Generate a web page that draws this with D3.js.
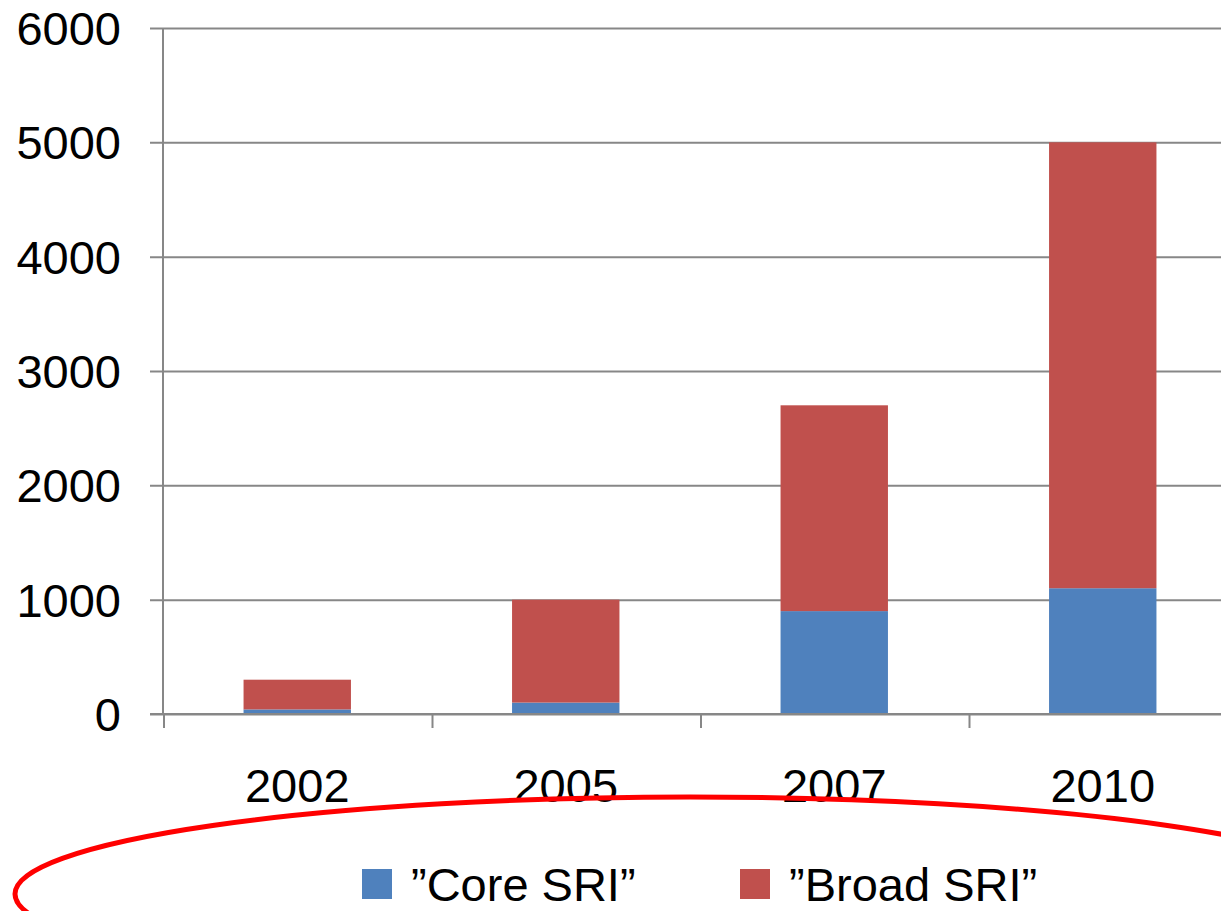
<!DOCTYPE html>
<html>
<head>
<meta charset="utf-8">
<script src="https://cdn.jsdelivr.net/npm/d3@7"></script>
<style>
  body { margin: 0; background: #fff; }
  text { font-family: "Liberation Sans", Arial, sans-serif; fill: #000; }
</style>
</head>
<body>
<div id="wrapper"></div>
<script>
const years = ["2002", "2005", "2007", "2010"];
const coreSRI = [40, 100, 900, 1100];
const broadSRI = [260, 900, 1800, 3900];
const yTicks = [0, 1000, 2000, 3000, 4000, 5000, 6000];
const seriesNames = ["\u201DCore SRI\u201D", "\u201DBroad SRI\u201D"];
const colors = ["#4F81BD", "#C0504D"];

const dimension = {
    width: 1221,
    height: 911,
    margin: { left: 163, right: -16, top: 28, bottom: 197 }
};
const fontSize = "47px";

const svg = d3.select("#wrapper").append("svg")
    .attr("width", dimension.width)
    .attr("height", dimension.height);

// the plot runs past the right edge of the picture
const x_scale = d3.scaleBand()
    .domain(years)
    .range([dimension.margin.left, dimension.width - dimension.margin.right])
    .paddingInner(0.6)
    .paddingOuter(0.3);

const y_scale = d3.scaleLinear()
    .domain([0, 6000])
    .range([dimension.height - dimension.margin.bottom, dimension.margin.top]);

const rows = years.map((y, i) => ({ year: y, core: coreSRI[i], broad: broadSRI[i] }));
const stacked = d3.stack().keys(["core", "broad"])(rows);

// grid lines + y ticks
const y_axis = d3.axisLeft(y_scale)
    .tickValues(yTicks)
    .tickSize(0)
    .tickFormat(d3.format("d"));

const gy = svg.append("g")
    .attr("transform", `translate(${dimension.margin.left - 13},0)`)
    .call(y_axis);
gy.select(".domain").remove();
gy.selectAll(".tick line")
    .attr("x1", 0)
    .attr("x2", dimension.width)
    .attr("stroke", "#878787")
    .attr("stroke-width", 2);
gy.selectAll(".tick text")
    .attr("x", -29)
    .attr("dy", "0.35em")
    .style("font-size", fontSize)
    .style("font-family", "Liberation Sans, Arial, sans-serif")
    .attr("fill", "#000");

// bars
svg.append("g")
    .selectAll("g")
    .data(stacked)
    .join("g")
    .attr("fill", (d, i) => colors[i])
    .selectAll("rect")
    .data(d => d)
    .join("rect")
    .attr("x", d => x_scale(d.data.year))
    .attr("width", x_scale.bandwidth())
    .attr("y", d => y_scale(d[1]))
    .attr("height", d => y_scale(d[0]) - y_scale(d[1]));

// y axis line
svg.append("line")
    .attr("x1", dimension.margin.left).attr("x2", dimension.margin.left)
    .attr("y1", y_scale(6000)).attr("y2", y_scale(0))
    .attr("stroke", "#878787").attr("stroke-width", 2);

// x axis line + category boundary ticks
const y0 = y_scale(0);
svg.append("line")
    .attr("x1", dimension.margin.left - 13).attr("x2", dimension.width)
    .attr("y1", y0).attr("y2", y0)
    .attr("stroke", "#878787").attr("stroke-width", 2);

const gap = (x_scale.step() - x_scale.bandwidth()) / 2;
svg.append("g")
    .selectAll("line")
    .data(years)
    .join("line")
    .attr("x1", d => x_scale(d) - gap + 1)
    .attr("x2", d => x_scale(d) - gap + 1)
    .attr("y1", y0)
    .attr("y2", y0 + 14)
    .attr("stroke", "#878787").attr("stroke-width", 2);

// x labels
svg.append("g")
    .selectAll("text")
    .data(years)
    .join("text")
    .attr("x", d => x_scale(d) + x_scale.bandwidth() / 2)
    .attr("y", 802)
    .attr("text-anchor", "middle")
    .style("font-size", fontSize)
    .text(d => d);

// legend
const legendX = [362, 740];
const legend = svg.append("g")
    .selectAll("g")
    .data(seriesNames)
    .join("g")
    .attr("transform", (d, i) => `translate(${legendX[i]},869)`);
legend.append("rect")
    .attr("width", 30).attr("height", 30)
    .attr("fill", (d, i) => colors[i]);
legend.append("text")
    .attr("x", 49).attr("y", 32)
    .style("font-size", fontSize)
    .text(d => d);

// red hand-drawn ellipse round the legend
svg.append("ellipse")
    .attr("cx", 690).attr("cy", 894)
    .attr("rx", 675).attr("ry", 97)
    .attr("fill", "none")
    .attr("stroke", "#FF0000")
    .attr("stroke-width", 5);
</script>
</body>
</html>
